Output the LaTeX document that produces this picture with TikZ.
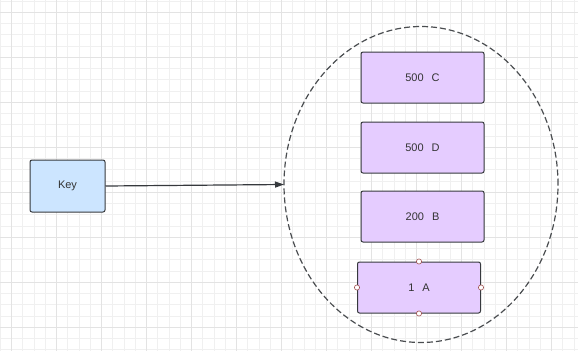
\documentclass[tikz,border=0pt]{standalone}
\usepackage{fontspec}
\setmainfont{Liberation Sans}
\usepackage{tikz}
\usetikzlibrary{arrows.meta, shapes.geometric, positioning}

\definecolor{keyblue}{HTML}{CCE5FF}
\definecolor{itempurple}{HTML}{E5CCFF}
\definecolor{edgegray}{HTML}{36393D}
\definecolor{handlered}{HTML}{A05050}

\begin{document}
\begin{tikzpicture}[
  x=1pt, y=-1pt,
  font=\fontsize{11}{13}\selectfont,
  box/.style    = {rectangle, draw=edgegray, line width=1pt, rounded corners=2pt,
                   text=black!80, align=center},
  item/.style   = {box, fill=itempurple, minimum width=123pt, minimum height=51pt},
  handle/.style = {draw=handlered, fill=white, line width=0.6pt},
  minorline/.style = {black!6, line width=0.5pt},
  majorline/.style = {black!11, line width=0.6pt},
  arr/.style    = {-{Triangle[length=9pt, width=6pt]}, line width=1.2pt, draw=edgegray}
]
  \useasboundingbox (0,0) rectangle (578,351);
  % background grid
  \foreach \i in {0,...,51} {
    \draw[minorline] ({\i*11.25},0) -- ({\i*11.25},351);
    \draw[minorline] (0,{0.75+\i*11.25}) -- (578,{0.75+\i*11.25});
  }
  \foreach \i in {0,...,12} {
    \draw[majorline] ({11.25+\i*45},0) -- ({11.25+\i*45},351);
    \draw[majorline] (0,{12+\i*45}) -- (578,{12+\i*45});
  }

  \node[box, fill=keyblue, minimum width=75pt, minimum height=52pt] (key) at (67.5,186) {Key};

  \node[ellipse, draw=edgegray!90, dashed, dash pattern=on 6pt off 3pt, line width=1.2pt,
        minimum width=274pt, minimum height=316pt, inner sep=0pt, outer sep=0pt] (set) at (421,184.5) {};

  \node[item] (c) at (422.5,77.5) {500\hspace{8pt}C};
  \node[item] (d) at (422.5,147.5) {500\hspace{8pt}D};
  \node[item] (b) at (422.5,216.5) {200\hspace{8pt}B};
  \node[item] (a) at (419,287.5) {1\hspace{8pt}A};

  % selection handles
  \foreach \p in {north, south, east, west}
    \draw[handle] (a.\p) circle (2.6pt);

  \draw[arr] (key.east) -- (set.west);
\end{tikzpicture}
\end{document}
